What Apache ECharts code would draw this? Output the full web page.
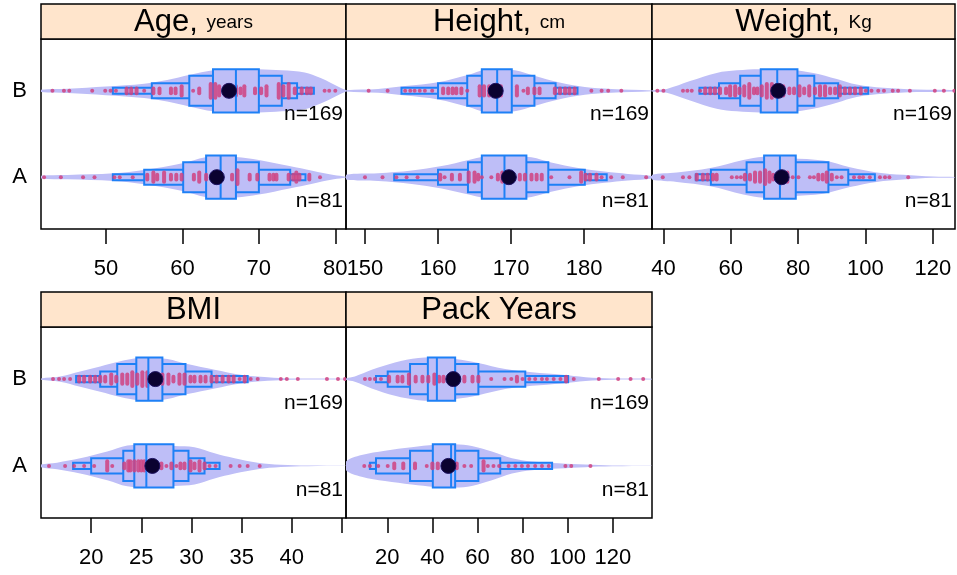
<!DOCTYPE html>
<html>
<head>
<meta charset="utf-8">
<script src="https://cdn.jsdelivr.net/npm/echarts@6/dist/echarts.min.js"></script>
<style>html,body{margin:0;padding:0;background:#fff}#chart{width:957px;height:575px}</style>
</head>
<body>
<div id="chart"></div>
<script>
// panels and groups
const panelNames = ['Age', 'Height', 'Weight', 'BMI', 'Pack Years'];
const panelUnits = ['years', 'cm', 'Kg', '', ''];
const groupNames = ['A', 'B'];
const groupN = [81, 169];

// axis ranges and ticks
const xRanges = [[41.5, 81.4], [147.4, 189.3], [36.6, 126.6], [15.0, 45.4], [1.7, 137.4]];
const tickValues = [[50, 60, 70, 80], [150, 160, 170, 180], [40, 60, 80, 100, 120], [20, 25, 30, 35, 40, 45], [20, 40, 60, 80, 100, 120]];
const tickLabels = [[50, 60, 70, 80], [150, 160, 170, 180], [40, 60, 80, 100, 120], [20, 25, 30, 35, 40], [20, 40, 60, 80, 100, 120]];

// quantiles: 5%, 12.5%, 25%, 37.5%, 50%, 62.5%, 75%, 87.5%, 95%
const ageQuantA = [50.9, 55.0, 60.1, 63.1, 65.0, 67.0, 70.0, 74.1, 76.1];
const ageQuantB = [50.9, 56.0, 60.9, 64.0, 67.0, 70.0, 73.0, 75.0, 77.2];
const heightQuantA = [154.0, 160.0, 164.1, 166.0, 169.1, 172.1, 175.1, 180.1, 183.1];
const heightQuantB = [155.0, 160.0, 164.0, 166.0, 168.1, 170.1, 173.2, 176.1, 179.1];
const weightQuantA = [49.6, 54.1, 64.7, 69.9, 74.6, 79.3, 89.0, 94.9, 102.8];
const weightQuantB = [50.7, 56.5, 62.8, 68.9, 73.8, 79.8, 84.8, 91.9, 100.8];
const bmiQuantA = [18.2, 20.0, 23.2, 24.3, 25.5, 28.2, 29.7, 31.3, 32.8];
const bmiQuantB = [18.5, 20.9, 22.6, 24.5, 25.7, 27.1, 29.4, 32.0, 35.6];
const packQuantA = [12.3, 15.0, 30.1, 40.2, 48.3, 50.1, 60.4, 70.1, 93.1];
const packQuantB = [15.0, 20.2, 30.1, 38.0, 42.0, 50.1, 60.4, 81.2, 100.2];

// means per panel
const meanA = [64.5, 169.7, 75.1, 26.1, 47.1];
const meanB = [66.1, 167.9, 74.1, 26.4, 49.3];

// density outlines: [value, relative density]
const ageDensA = [[41.4, 0.06], [45, 0.1], [51, 0.18], [55, 0.33], [60, 0.64], [63, 0.92], [65, 0.97], [67, 0.94], [70, 0.8], [74, 0.52], [77, 0.3], [79.8, 0.1], [81.4, 0.02]];
const ageDensB = [[41.4, 0.05], [45, 0.1], [50, 0.2], [55, 0.33], [58, 0.5], [61, 0.74], [64, 0.95], [67, 1.0], [70, 1.0], [73, 0.95], [76, 0.85], [78, 0.6], [79.5, 0.35], [80.8, 0.12], [81.4, 0.03]];
const heightDensA = [[147.4, 0.11], [151.8, 0.18], [156.4, 0.31], [160.5, 0.52], [164.2, 0.8], [166.4, 0.95], [170.1, 0.98], [172.8, 0.92], [175.5, 0.68], [179.2, 0.42], [182.8, 0.26], [186.0, 0.15], [189.3, 0.06]];
const heightDensB = [[147.4, 0.03], [151.8, 0.09], [155.5, 0.22], [160, 0.4], [164.2, 0.75], [166.4, 0.98], [168.2, 1.0], [170.5, 0.95], [173.2, 0.7], [176.5, 0.4], [180.1, 0.18], [183.7, 0.09], [189.3, 0.02]];
const weightDensA = [[36.6, 0.11], [44.0, 0.22], [53.9, 0.42], [63.7, 0.8], [69.7, 0.95], [77.6, 0.88], [87.5, 0.77], [95.4, 0.46], [103.3, 0.22], [111.2, 0.11], [120.1, 0.03], [126.6, 0.01]];
const weightDensB = [[36.6, 0.03], [41.0, 0.09], [47.9, 0.45], [55.8, 0.83], [61.8, 0.95], [68.7, 1.0], [77.6, 0.98], [84.5, 0.83], [91.5, 0.55], [97.4, 0.29], [105.3, 0.14], [115.2, 0.06], [126.6, 0.03]];
const bmiDensA = [[15.0, 0.06], [16.6, 0.15], [18.9, 0.35], [21.6, 0.66], [23.6, 0.94], [25.6, 0.97], [28.3, 0.92], [30.3, 0.86], [32.3, 0.58], [34.3, 0.35], [36.6, 0.15], [38.9, 0.05], [41.6, 0.015], [45.4, 0.005]];
const bmiDensB = [[15.0, 0.03], [16.9, 0.12], [18.9, 0.35], [20.9, 0.58], [22.9, 0.82], [24.6, 0.97], [25.9, 1.0], [27.6, 0.92], [29.6, 0.69], [32.3, 0.43], [34.9, 0.2], [37.6, 0.08], [39.9, 0.03], [45.4, 0.015]];
const packDensA = [[1.7, 0.2], [8.6, 0.5], [19.0, 0.7], [30.8, 0.86], [41.2, 0.97], [50.1, 1.0], [57.5, 0.92], [66.4, 0.66], [75.3, 0.35], [84.2, 0.2], [96.0, 0.12], [107.9, 0.06], [119.7, 0.02], [137.4, 0.008]];
const packDensB = [[1.7, 0.03], [5.6, 0.12], [13.1, 0.43], [23.4, 0.77], [33.8, 0.97], [41.2, 1.0], [50.1, 0.92], [60.4, 0.74], [72.3, 0.46], [84.2, 0.31], [97.5, 0.2], [107.9, 0.09], [119.7, 0.03], [137.4, 0.015]];

// observed values: [value, frequency]
const ageDotsA = [[41.9, 1], [44.1, 1], [47.0, 1], [48.5, 1], [51.1, 1], [51.8, 1], [53.5, 1], [55.4, 2], [56.2, 3], [56.7, 2], [57.6, 3], [58.5, 2], [59.2, 2], [59.9, 2], [61.5, 2], [62.2, 3], [63.1, 2], [64.4, 3], [66.5, 2], [67.2, 4], [68.8, 2], [69.8, 2], [71.4, 2], [71.9, 2], [72.3, 2], [73.9, 2], [74.5, 2], [74.9, 3], [75.3, 2], [76.6, 2], [78.0, 1]];
const ageDotsB = [[43.0, 1], [44.5, 1], [45.2, 1], [48.2, 1], [49.9, 1], [50.6, 1], [51.3, 1], [52.7, 2], [53.3, 2], [54.0, 2], [55.0, 1], [56.2, 2], [57.0, 2], [58.5, 2], [59.1, 2], [59.9, 3], [61.4, 1], [62.2, 2], [63.7, 4], [64.3, 4], [64.8, 3], [65.6, 3], [66.3, 3], [67.0, 3], [67.6, 2], [68.1, 3], [69.5, 2], [70.3, 2], [71.0, 3], [72.6, 4], [73.2, 3], [73.9, 4], [74.7, 2], [75.6, 2], [76.3, 2], [76.8, 2], [78.6, 1], [79.2, 1], [80.0, 1]];
const heightDotsA = [[150.0, 1], [152.4, 1], [154.3, 1], [155.7, 1], [157.2, 1], [160.3, 2], [160.9, 1], [161.9, 2], [163.0, 2], [164.2, 3], [165.0, 3], [165.5, 2], [166.0, 1], [167.3, 1], [168.2, 2], [168.8, 3], [169.6, 3], [171.2, 2], [171.9, 2], [172.8, 2], [173.5, 2], [174.2, 2], [175.5, 1], [178.0, 1], [179.6, 3], [180.2, 2], [180.8, 2], [181.7, 2], [182.4, 1], [183.7, 1], [185.3, 1], [188.5, 1]];
const heightDotsB = [[150.5, 1], [153.1, 1], [155.5, 1], [156.2, 1], [156.8, 1], [157.5, 1], [158.2, 1], [159.2, 1], [160.7, 2], [161.4, 2], [162.0, 2], [162.5, 2], [163.2, 2], [164.0, 1], [165.7, 3], [166.3, 3], [167.0, 3], [167.3, 2], [168.2, 3], [168.6, 3], [170.8, 3], [171.7, 1], [172.3, 2], [173.2, 2], [173.9, 2], [176.0, 2], [176.7, 2], [177.4, 2], [178.0, 2], [178.7, 2], [181.0, 1], [182.4, 1], [183.3, 1], [185.1, 1]];
const weightDotsA = [[39.8, 1], [45.8, 1], [47.7, 1], [49.9, 2], [51.7, 2], [53.1, 2], [54.7, 2], [55.8, 2], [60.3, 1], [61.8, 1], [63.0, 1], [64.2, 2], [65.7, 2], [67.2, 3], [68.7, 3], [70.2, 4], [71.5, 3], [72.6, 2], [74.8, 3], [76.8, 3], [78.4, 1], [80.1, 1], [83.5, 1], [84.7, 1], [86.0, 2], [87.3, 2], [88.5, 3], [90.0, 2], [91.5, 1], [92.9, 1], [96.6, 1], [98.2, 1], [99.3, 1], [101.3, 1], [104.3, 1], [105.8, 1], [107.1, 1], [112.7, 1]];
const weightDotsB = [[38.2, 1], [40.0, 1], [45.8, 1], [47.1, 1], [48.4, 1], [50.9, 1], [52.4, 2], [53.9, 2], [55.3, 2], [56.8, 2], [58.6, 2], [59.8, 3], [61.3, 3], [62.6, 2], [64.0, 3], [65.5, 4], [66.9, 2], [67.9, 2], [69.2, 3], [70.7, 4], [72.2, 4], [75.6, 3], [77.4, 2], [78.8, 2], [80.4, 3], [81.8, 2], [83.3, 3], [85.0, 2], [86.5, 3], [88.0, 3], [89.5, 2], [91.0, 2], [92.4, 3], [93.9, 2], [95.4, 2], [96.9, 2], [98.6, 2], [100.1, 1], [101.8, 1], [103.8, 1], [105.5, 1], [108.1, 1], [109.7, 1], [113.2, 1], [120.6, 1], [123.3, 1], [126.4, 1]];
const bmiDotsA = [[15.8, 1], [17.4, 1], [18.3, 1], [19.3, 1], [20.3, 1], [21.6, 3], [22.1, 1], [23.3, 2], [23.7, 3], [23.9, 3], [24.3, 3], [24.7, 3], [25.0, 3], [25.3, 3], [25.7, 2], [26.5, 1], [27.0, 2], [27.5, 1], [28.0, 2], [28.5, 1], [28.9, 2], [29.3, 2], [29.9, 3], [30.3, 2], [30.8, 3], [31.3, 2], [31.8, 1], [32.4, 1], [33.9, 1], [34.8, 1], [35.6, 1], [36.8, 1]];
const bmiDotsB = [[16.2, 1], [16.8, 1], [17.3, 1], [17.9, 1], [18.8, 2], [19.3, 2], [19.9, 2], [20.4, 2], [20.9, 2], [21.4, 2], [22.0, 3], [22.5, 2], [23.1, 3], [23.6, 3], [24.1, 4], [24.6, 3], [25.1, 4], [25.6, 4], [26.4, 3], [27.1, 3], [27.7, 3], [28.2, 2], [28.8, 3], [29.3, 3], [29.9, 2], [30.3, 2], [30.9, 2], [31.4, 2], [32.0, 2], [32.5, 2], [33.1, 2], [33.7, 2], [34.2, 2], [34.8, 1], [35.3, 2], [35.9, 1], [36.6, 1], [38.9, 1], [39.5, 1], [40.6, 1], [43.5, 1], [44.6, 1], [45.3, 1]];
const packDotsA = [[9.8, 1], [12.3, 1], [16.0, 1], [20.2, 1], [23.1, 2], [27.1, 2], [32.3, 2], [37.5, 1], [40.0, 2], [42.4, 2], [44.9, 2], [47.1, 2], [50.8, 2], [54.2, 1], [57.2, 1], [62.7, 3], [64.6, 1], [67.1, 1], [69.6, 1], [73.8, 1], [76.8, 1], [79.7, 1], [82.4, 1], [85.6, 1], [88.6, 1], [91.6, 1], [99.0, 1], [101.6, 1], [110.1, 1]];
const packDotsB = [[10.1, 1], [12.3, 1], [14.5, 1], [17.2, 1], [20.8, 2], [24.6, 2], [26.7, 2], [29.6, 3], [32.6, 2], [35.6, 2], [38.2, 2], [40.9, 3], [43.0, 2], [44.9, 2], [47.4, 2], [50.8, 2], [54.2, 2], [57.8, 2], [60.4, 2], [66.1, 1], [72.0, 1], [75.0, 1], [77.5, 2], [80.0, 1], [83.0, 1], [85.6, 1], [88.6, 1], [90.8, 1], [93.8, 1], [96.8, 1], [99.3, 2], [102.7, 1], [113.8, 1], [122.4, 1], [127.9, 1], [133.5, 1]];

const quants = [[ageQuantA, ageQuantB], [heightQuantA, heightQuantB], [weightQuantA, weightQuantB], [bmiQuantA, bmiQuantB], [packQuantA, packQuantB]];
const dens = [[ageDensA, ageDensB], [heightDensA, heightDensB], [weightDensA, weightDensB], [bmiDensA, bmiDensB], [packDensA, packDensB]];
const dots = [[ageDotsA, ageDotsB], [heightDotsA, heightDotsB], [weightDotsA, weightDotsB], [bmiDotsA, bmiDotsB], [packDotsA, packDotsB]];
const means = [meanA, meanB];

// layout
const FONT = 'Liberation Sans, Arial, sans-serif';
const colX = [41, 346, 652], colW = [305, 306, 303];
const rowTop = [39, 327], rowH = [190, 191], stripH = 35;
const place = [[0, 0], [1, 0], [2, 0], [0, 1], [1, 1]];
const VH = 0.25;                          // violin half height, y units
const boxHalf = [0.035, 0.087, 0.174, 0.25];
const violinColor = '#BEBEF7';
const boxColor = '#1E80F6';
const dotColor = 'rgba(208,66,128,0.85)';

const grids = [], xAxes = [], yAxes = [], series = [], graphics = [];

panelNames.forEach(function (name, p) {
  const c = place[p][0], r = place[p][1];
  grids.push({
    left: colX[c], top: rowTop[r], width: colW[c], height: rowH[r],
    show: true, borderColor: '#000', borderWidth: 1.5, backgroundColor: 'transparent'
  });
  xAxes.push({
    type: 'value', gridIndex: p, min: xRanges[p][0], max: xRanges[p][1],
    axisLine: { show: false }, splitLine: { show: false },
    axisTick: { show: true, length: 15, lineStyle: { color: '#000', width: 1.5 }, customValues: tickValues[p] },
    axisLabel: { customValues: tickLabels[p], fontSize: 22, color: '#000', margin: 29, fontFamily: FONT }
  });
  yAxes.push({
    type: 'value', gridIndex: p, min: 0.4, max: 2.6,
    axisLine: { show: false }, splitLine: { show: false }, axisTick: { show: false },
    axisLabel: {
      show: c === 0, customValues: [1, 2], formatter: function (v) { return groupNames[v - 1]; },
      fontSize: 22, color: '#000', margin: 14, fontFamily: FONT
    }
  });

  // strip
  const sx = colX[c], sy = rowTop[r] - stripH;
  graphics.push({
    type: 'rect', shape: { x: sx, y: sy, width: colW[c], height: stripH },
    style: { fill: '#FFE5CC', stroke: '#000', lineWidth: 1.5 }, z: 10
  });
  const label = panelUnits[p] ? '{b|' + name + ', }{s|' + panelUnits[p] + '}' : '{b|' + name + '}';
  graphics.push({
    type: 'text', x: sx + colW[c] / 2, y: sy + stripH / 2 + 1, z: 11,
    style: {
      text: label, align: 'center', verticalAlign: 'middle', textAlign: 'center', textVerticalAlign: 'middle',
      fill: '#000', fontFamily: FONT,
      rich: { b: { fontSize: 31, fontFamily: FONT, fill: '#000' }, s: { fontSize: 19, fontFamily: FONT, fill: '#000' } }
    }
  });

  groupNames.forEach(function (gName, g) {
    const yv = g + 1;
    const q = quants[p][g];
    const base = { xAxisIndex: p, yAxisIndex: p, silent: true, animation: false };

    // violin
    series.push(Object.assign({}, base, {
      type: 'custom', clip: true, z: 2,
      data: dens[p][g],
      renderItem: function (params, api) {
        if (params.dataIndex !== 0) return;
        const pts = dens[p][g];
        const top = pts.map(function (d) { return api.coord([d[0], yv + d[1] * VH]); });
        const bot = pts.slice().reverse().map(function (d) { return api.coord([d[0], yv - d[1] * VH]); });
        return { type: 'polygon', shape: { points: top.concat(bot), smooth: 0.35 }, style: { fill: violinColor } };
      }
    }));

    // nested quantile boxes, widest first so inner boxes cover inner edges
    const boxRows = [0, 1, 2, 3].map(function (k) { return [q[k], q[8 - k], k, yv]; });
    series.push(Object.assign({}, base, {
      type: 'custom', z: 3, data: boxRows,
      renderItem: function (params, api) {
        const k = api.value(2), h = boxHalf[k];
        const a = api.coord([api.value(0), api.value(3) + h]);
        const b = api.coord([api.value(1), api.value(3) - h]);
        return {
          type: 'rect', z2: k, shape: { x: a[0], y: a[1], width: b[0] - a[0], height: b[1] - a[1] },
          style: { fill: violinColor, stroke: boxColor, lineWidth: 2 }
        };
      }
    }));

    // frequency spikes
    series.push(Object.assign({}, base, {
      type: 'custom', clip: true, z: 4,
      data: dots[p][g].map(function (d) { return [d[0], yv, d[1]]; }),
      renderItem: function (params, api) {
        const pt = api.coord([api.value(0), api.value(1)]);
        const half = (api.value(2) - 1) * 2.3;
        return {
          type: 'line', shape: { x1: pt[0], y1: pt[1] - half - 0.01, x2: pt[0], y2: pt[1] + half + 0.01 },
          style: { stroke: dotColor, lineWidth: 4, lineCap: 'round' }
        };
      }
    }));

    // median
    series.push(Object.assign({}, base, {
      type: 'custom', z: 5, data: [[q[4], yv]],
      renderItem: function (params, api) {
        const a = api.coord([api.value(0), api.value(1) + boxHalf[3]]);
        const b = api.coord([api.value(0), api.value(1) - boxHalf[3]]);
        return { type: 'line', shape: { x1: a[0], y1: a[1], x2: b[0], y2: b[1] }, style: { stroke: boxColor, lineWidth: 2 } };
      }
    }));

    // mean
    series.push(Object.assign({}, base, {
      type: 'scatter', z: 6, symbol: 'circle', symbolSize: 15,
      itemStyle: { color: '#0A0230', borderColor: '#1a1060', borderWidth: 1, opacity: 1 },
      data: [[means[g][p], yv]]
    }));

    // n label
    series.push(Object.assign({}, base, {
      type: 'custom', z: 7, data: [[xRanges[p][1], yv - 0.275]],
      renderItem: function (params, api) {
        const pt = api.coord([api.value(0), api.value(1)]);
        return {
          type: 'text', x: pt[0] - 3, y: pt[1],
          style: {
            text: 'n=' + groupN[g], fontSize: 21, fontFamily: FONT, fill: '#000',
            align: 'right', verticalAlign: 'middle', textAlign: 'right', textVerticalAlign: 'middle'
          }
        };
      }
    }));
  });
});

const chart = echarts.init(document.getElementById('chart'));
chart.setOption({
  animation: false,
  backgroundColor: '#fff',
  textStyle: { fontFamily: FONT },
  grid: grids,
  xAxis: xAxes,
  yAxis: yAxes,
  series: series,
  graphic: graphics
});
</script>
</body>
</html>
